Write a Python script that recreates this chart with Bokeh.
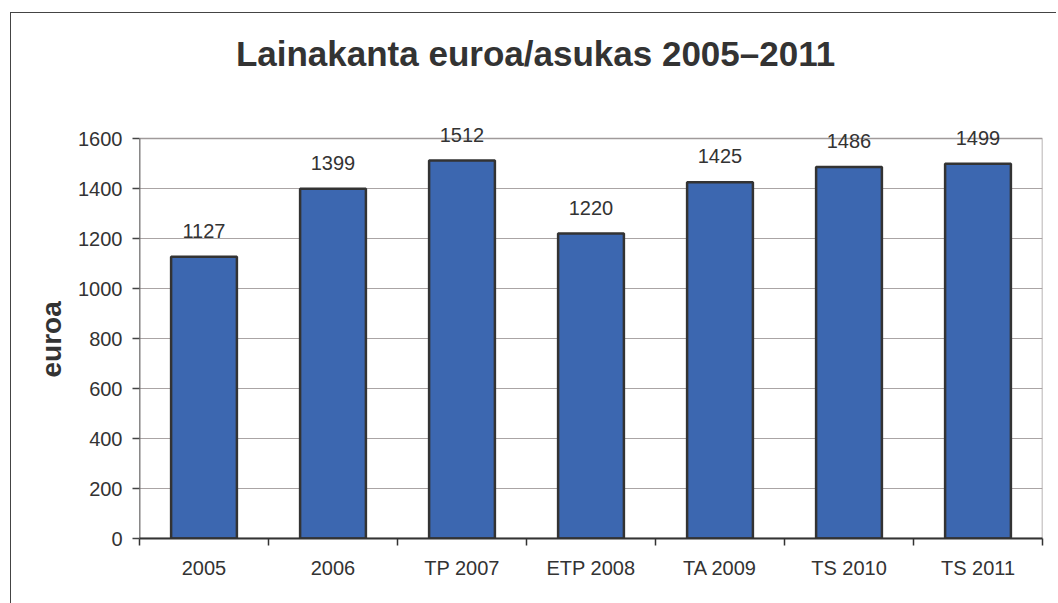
from bokeh.plotting import figure
from bokeh.models import (ColumnDataSource, FixedTicker, LabelSet, Label,
                          Range1d, Title)
from bokeh.core.properties import value
from bokeh.embed import file_html
from bokeh.resources import INLINE

categories = ["2005", "2006", "TP 2007", "ETP 2008", "TA 2009", "TS 2010", "TS 2011"]
values = [1127, 1399, 1512, 1220, 1425, 1486, 1499]
y_ticks = [0, 200, 400, 600, 800, 1000, 1200, 1400, 1600]
title_text = "Lainakanta euroa/asukas 2005\u20132011"
y_label = "euroa"

FONT = "Liberation Sans"
TXT = "#333333"
Y_MAX = 1600
Y_VIEW = 2100   # frame extends up to the canvas top (room for title / labels)

n = len(categories)
xs = [i + 0.5 for i in range(n)]
src = ColumnDataSource(dict(x=xs, top=values, lab=[str(v) for v in values]))

p = figure(width=1046, height=591, output_backend="svg", toolbar_location=None,
           x_range=Range1d(0, n), y_range=Range1d(0, Y_VIEW),
           min_border_left=128, min_border_top=0, min_border_right=15,
           min_border_bottom=66, background_fill_color="white",
           border_fill_color="white", margin=(12, 0, 0, 10),
           styles={"border-top": "1.5px solid #444444",
                   "border-left": "1.5px solid #444444"})

p.outline_line_color = None
p.xgrid.visible = False
p.ygrid.ticker = FixedTicker(ticks=y_ticks[1:-1])
p.ygrid.grid_line_color = "#aaa4a4"
p.ygrid.grid_line_width = 1

# plot-area box
p.quad(left=[0], right=[n], bottom=[0], top=[Y_MAX], fill_color=None,
       line_color="#a09a9a", line_width=1.5)
p.segment(x0=[0], y0=[0], x1=[0], y1=[Y_MAX], line_color="#444444", line_width=1.5)

p.vbar(x="x", top="top", width=0.51, source=src, fill_color="#3c67b0",
       line_color="#333333", line_width=2.5)

p.add_layout(LabelSet(x="x", y="top", text="lab", source=src, text_align="center",
                      text_baseline="alphabetic", y_offset=19,
                      text_font=value(FONT), text_font_size="20px",
                      text_color=TXT))

# y axis
p.yaxis.ticker = FixedTicker(ticks=y_ticks)
p.yaxis.major_label_text_font = FONT
p.yaxis.major_label_text_font_size = "20px"
p.yaxis.major_label_text_color = TXT
p.yaxis.major_label_standoff = 10
p.yaxis.major_tick_out = 7
p.yaxis.major_tick_in = 0
p.yaxis.minor_tick_line_color = None
p.yaxis.axis_line_color = None
p.yaxis.major_tick_line_color = "#444444"
p.yaxis.major_tick_line_width = 1.5

p.add_layout(Title(text=y_label, align="left", offset=161, standoff=18,
                   text_font=FONT, text_font_size="28px",
                   text_font_style="bold", text_color=TXT), "left")

# x axis: labels at centres, ticks at category boundaries
p.xaxis.ticker = FixedTicker(ticks=xs, minor_ticks=list(range(n + 1)))
p.xaxis.major_label_overrides = {x: c for x, c in zip(xs, categories)}
p.xaxis.major_label_text_font = FONT
p.xaxis.major_label_text_font_size = "20px"
p.xaxis.major_label_text_color = TXT
p.xaxis.major_label_standoff = 11
p.xaxis.major_tick_line_color = None
p.xaxis.minor_tick_out = 7
p.xaxis.minor_tick_in = 0
p.xaxis.minor_tick_line_color = "#333333"
p.xaxis.minor_tick_line_width = 1.5
p.xaxis.axis_line_color = "#333333"
p.xaxis.axis_line_width = 2

# title (inside the extended frame, data coordinates)
p.add_layout(Label(x=3.07, y=1940, text=title_text, text_font=FONT,
                   text_font_size="35px", text_font_style="bold",
                   text_color=TXT, text_align="center",
                   text_baseline="alphabetic"))

open("out.html", "w").write(file_html(p, INLINE))
